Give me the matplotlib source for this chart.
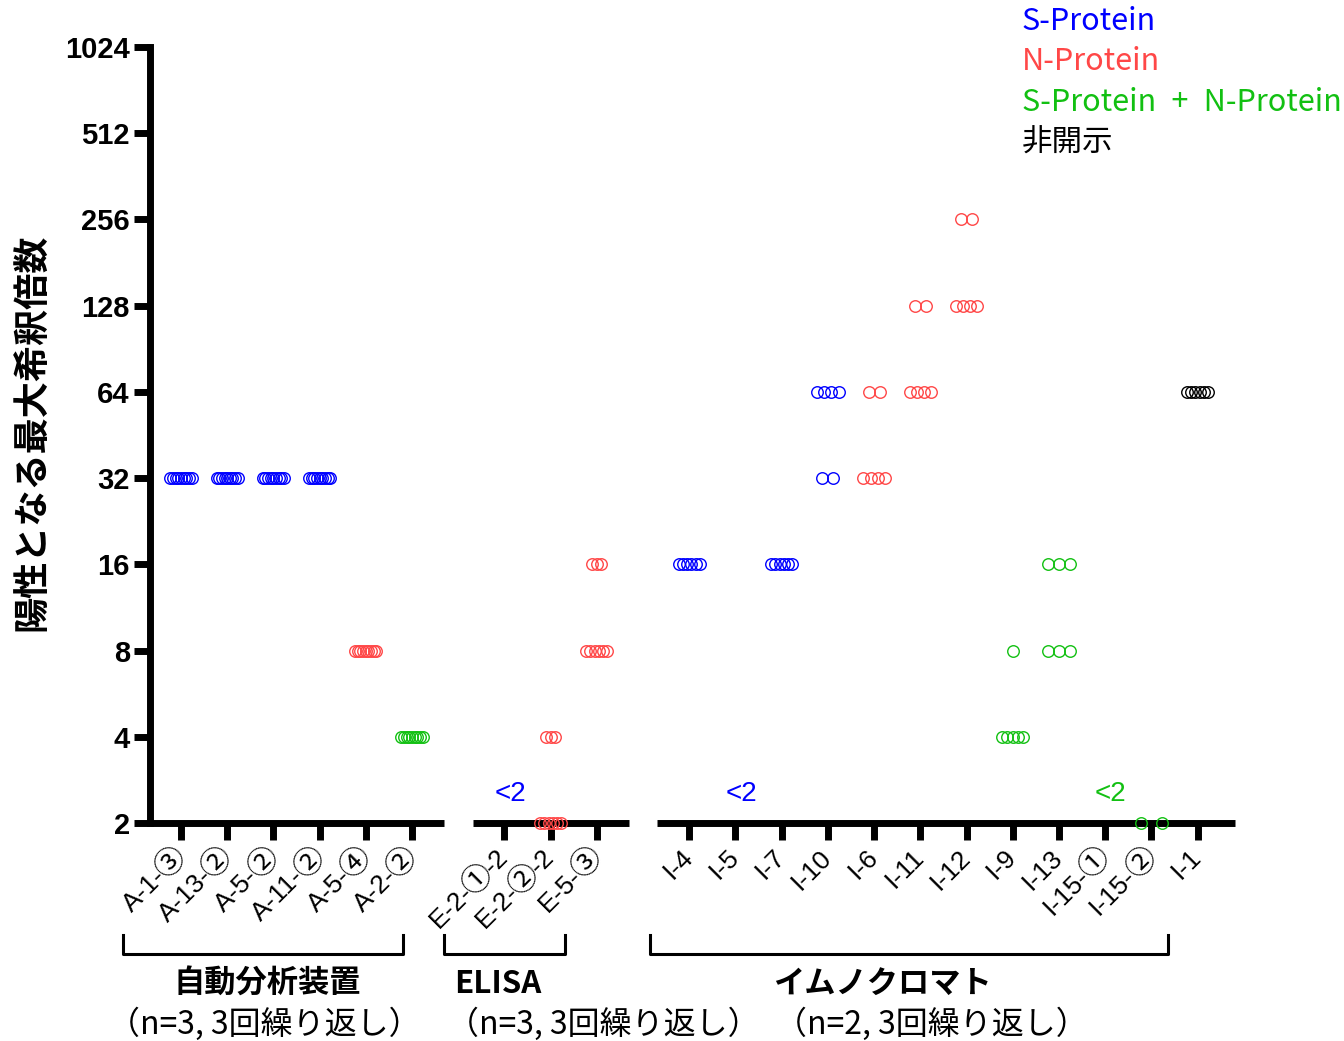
import matplotlib.pyplot as plt
import numpy as np
from matplotlib.lines import Line2D
from matplotlib.ticker import NullLocator

plt.rcParams['font.family'] = ['Liberation Sans', 'DejaVu Sans', 'Noto Sans CJK JP']

BLUE = '#0000FF'
RED = '#FF4747'
GREEN = '#12C012'
BLACK = '#000000'

# 自動分析装置
auto_labels = ['A-1-③', 'A-13-②', 'A-5-②', 'A-11-②', 'A-5-④', 'A-2-②']
auto_colors = [BLUE, BLUE, BLUE, BLUE, RED, GREEN]
auto_values = [
    [32, 32, 32, 32, 32, 32, 32, 32, 32],
    [32, 32, 32, 32, 32, 32, 32, 32, 32],
    [32, 32, 32, 32, 32, 32, 32, 32, 32],
    [32, 32, 32, 32, 32, 32, 32, 32, 32],
    [8, 8, 8, 8, 8, 8, 8, 8, 8],
    [4, 4, 4, 4, 4, 4, 4, 4, 4],
]

# ELISA
elisa_labels = ['E-2-①-2', 'E-2-②-2', 'E-5-③']
elisa_colors = [BLUE, RED, RED]
elisa_values = [
    [],
    [4, 4, 4, 2, 2, 2, 2, 2, 2],
    [16, 16, 16, 8, 8, 8, 8, 8, 8],
]

# イムノクロマト
immuno_labels = ['I-4', 'I-5', 'I-7', 'I-10', 'I-6', 'I-11', 'I-12',
                 'I-9', 'I-13', 'I-15-①', 'I-15-②', 'I-1']
immuno_colors = [BLUE, BLUE, BLUE, BLUE, RED, RED, RED,
                 GREEN, GREEN, GREEN, GREEN, BLACK]
immuno_values = [
    [16, 16, 16, 16, 16, 16],
    [],
    [16, 16, 16, 16, 16, 16],
    [64, 64, 64, 64, 32, 32],
    [64, 64, 32, 32, 32, 32],
    [128, 128, 64, 64, 64, 64],
    [256, 256, 128, 128, 128, 128],
    [8, 4, 4, 4, 4, 4],
    [16, 16, 16, 8, 8, 8],
    [],
    [2, 2],
    [64, 64, 64, 64, 64, 64],
]

y_ticks = [2, 4, 8, 16, 32, 64, 128, 256, 512, 1024]
legend_names = ['S-Protein', 'N-Protein', 'S-Protein\u2002+\u2002N-Protein', '非開示']
legend_colors = [BLUE, RED, GREEN, BLACK]
group_titles = ['自動分析装置', 'ELISA', 'イムノクロマト']
group_notes = ['（n=3, 3回繰り返し）', '（n=3, 3回繰り返し）', '（n=2, 3回繰り返し）']

groups = [
    (auto_labels, auto_colors, auto_values),
    (elisa_labels, elisa_colors, elisa_values),
    (immuno_labels, immuno_colors, immuno_values),
]

CIRCLED = '①②③④⑤⑥⑦⑧⑨'
LABEL_SIZE = 19
CIRCLE_SIZE = 22


def spread(n, total):
    # horizontal scatter for repeated values in one column;
    # columns with more points are packed tighter
    if n == 1:
        return np.array([0.0])
    if total >= 9:
        step = 0.1
    elif total >= 6:
        step = 0.24
    else:
        step = 0.46
    w = min(step * (n - 1), 0.46)
    return np.linspace(-w / 2, w / 2, n)


def split_label(s):
    # break a label into plain runs and circled digits
    parts = []
    for ch in s:
        kind = ch in CIRCLED
        if parts and parts[-1][1] == kind and not kind:
            parts[-1][0] += ch
        else:
            parts.append([ch, kind])
    return parts


W, H = 1344, 1041
fig = plt.figure(figsize=(W / 100, H / 100), dpi=100)
ax = fig.add_axes([150 / W, 1 - 823 / H, (1235 - 150) / W, (823 - 47) / H])

labels, colors, values, xpos, gaps = [], [], [], [], []
x = 1
for g_labels, g_colors, g_values in groups:
    for lab, col, vals in zip(g_labels, g_colors, g_values):
        labels.append(lab)
        colors.append(col)
        values.append(vals)
        xpos.append(x)
        x += 1
    gaps.append(x)
    x += 1
gaps = gaps[:-1]

for xi, col, vals in zip(xpos, colors, values):
    if not vals:
        ax.annotate('<2', xy=(xi, 2), xytext=(4, 21), textcoords='offset points',
                    ha='center', va='center', color=col, fontsize=20)
        continue
    for v in sorted(set(vals)):
        n = vals.count(v)
        ax.plot(xi + spread(n, len(vals)), [v] * n, ls='none', marker='o',
                mfc='none', mec=col, ms=8.3, mew=1.0, clip_on=False, zorder=5)

ax.set_yscale('log', base=2)
ax.set_ylim(2, 1024)
ax.set_yticks(y_ticks)
ax.set_yticklabels([str(t) for t in y_ticks], fontweight='bold')
ax.yaxis.set_minor_locator(NullLocator())

xlo, xhi = 0.33, 23.81
ax.set_xlim(xlo, xhi)
ax.set_xticks(xpos)
ax.set_xticklabels([])

for side in ['top', 'right', 'bottom']:
    ax.spines[side].set_visible(False)
ax.spines['left'].set_linewidth(5)
ax.tick_params(axis='y', length=11.5, width=5, pad=3, labelsize=21)
ax.tick_params(axis='x', length=12, width=5)

# broken x axis line between the groups
edges = [xlo]
for g in gaps:
    edges += [g - 0.31, g + 0.31]
edges.append(xhi)
for a, b in zip(edges[::2], edges[1::2]):
    ax.plot([a, b], [0, 0], color='black', lw=5, solid_capstyle='butt',
            transform=ax.get_xaxis_transform(), clip_on=False, zorder=3)

# rotated sample labels, circled digits set larger than the rest
renderer = fig.canvas.get_renderer()
c45 = np.cos(np.pi / 4)
y_anchor = ax.transAxes.transform((0, 0))[1] - (12 + 10) * 100 / 72
for xi, lab in zip(xpos, labels):
    cx = ax.transData.transform((xi, 2))[0]
    cy = y_anchor
    for text, circled in reversed(split_label(lab)):
        if circled:
            # the circle glyph is narrower than its full-width advance
            w = 0.88 * CIRCLE_SIZE * 100 / 72
            fig.text((cx - w / 2 * c45) / W, (cy - w / 2 * c45) / H, text,
                     rotation=45, rotation_mode='anchor', ha='center',
                     va='center', fontsize=CIRCLE_SIZE,
                     family=['Noto Sans CJK JP'])
        else:
            probe = fig.text(0, 0, text, fontsize=LABEL_SIZE)
            w = probe.get_window_extent(renderer).width
            probe.remove()
            fig.text(cx / W, cy / H, text, rotation=45, rotation_mode='anchor',
                     ha='right', va='center', fontsize=LABEL_SIZE)
        cx -= w * c45
        cy -= w * c45

fig.text(33 / W, 1 - 432 / H, '陽性となる最大希釈倍数', rotation=90,
         ha='center', va='center', fontsize=26, fontweight='bold',
         family=['Noto Sans CJK JP'])

for i, (name, col) in enumerate(zip(legend_names, legend_colors)):
    fig.text(1022 / W, 1 - (21 + 40.7 * i) / H, name, color=col,
             ha='left', va='center', fontsize=22, family=['Noto Sans CJK JP'])

# brackets under the tick labels
brackets = [(123, 403), (444, 565), (650, 1168)]
for x0, x1 in brackets:
    fig.add_artist(Line2D([x0 / W, x0 / W, x1 / W, x1 / W],
                          [1 - 935 / H, 1 - 954 / H, 1 - 954 / H, 1 - 935 / H],
                          color='black', lw=2.2, transform=fig.transFigure))

title_x = [267, 498, 882]
note_x = [264, 603, 931]
for t, tx in zip(group_titles, title_x):
    fig.text(tx / W, 1 - 984 / H, t, ha='center', va='center', fontsize=22.5,
             fontweight='bold', family=['Noto Sans CJK JP'])
for t, tx in zip(group_notes, note_x):
    fig.text(tx / W, 1 - 1024 / H, t, ha='center', va='center', fontsize=23,
             family=['Noto Sans CJK JP'])

fig.savefig('out.png', dpi=100)
